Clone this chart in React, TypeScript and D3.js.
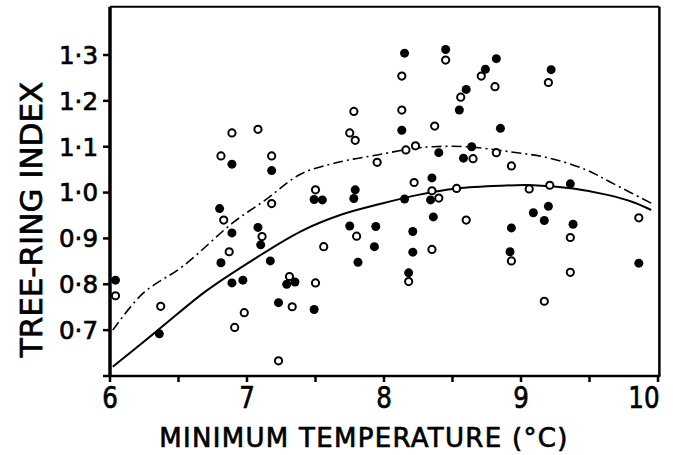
import * as d3 from 'd3';

// Tree-ring index vs minimum temperature, two samples plus two fitted curves.

type Pt = [number, number];

const filledPoints: Pt[] = [
	[6.04, 0.809], [6.36, 0.692], [6.89, 1.062], [6.8, 0.965], [6.89, 0.912], [6.81, 0.847],
	[6.89, 0.803], [6.97, 0.809], [7.18, 1.048], [7.17, 0.851], [7.08, 0.924], [7.1, 0.886],
	[7.29, 0.8], [7.35, 0.805], [7.23, 0.76], [7.49, 0.985], [7.55, 0.984], [7.49, 0.745],
	[7.79, 1.006], [7.78, 0.987], [7.75, 0.927], [7.81, 0.848], [7.94, 0.926], [7.93, 0.882],
	[8.13, 1.136], [8.15, 1.304], [8.15, 0.986], [8.21, 0.915], [8.21, 0.87], [8.18, 0.825],
	[8.35, 1.032], [8.34, 0.984], [8.36, 0.947], [8.4, 1.087], [8.45, 1.312], [8.55, 1.18],
	[8.6, 1.225], [8.58, 1.075], [8.64, 1.1], [8.74, 1.269], [8.82, 1.292], [8.85, 1.14],
	[8.93, 0.923], [8.92, 0.871], [9.09, 0.956], [9.2, 0.97], [9.17, 0.939], [9.22, 1.268],
	[9.36, 1.019], [9.38, 0.931], [9.86, 0.846],
];

const openPoints: Pt[] = [
	[6.04, 0.775], [6.37, 0.752], [6.89, 1.13], [6.81, 1.08], [6.83, 0.94], [6.87, 0.871],
	[6.98, 0.738], [6.91, 0.706], [7.08, 1.138], [7.18, 1.08], [7.18, 0.976], [7.11, 0.904],
	[7.31, 0.817], [7.33, 0.751], [7.23, 0.633], [7.5, 1.006], [7.56, 0.882], [7.5, 0.803],
	[7.78, 1.177], [7.75, 1.13], [7.79, 1.114], [7.8, 0.905], [7.95, 1.066], [8.13, 1.18],
	[8.13, 1.254], [8.16, 1.093], [8.23, 1.102], [8.22, 1.022], [8.18, 0.806], [8.35, 1.004],
	[8.4, 0.988], [8.35, 0.876], [8.37, 1.145], [8.45, 1.289], [8.56, 1.208], [8.53, 1.009],
	[8.65, 1.074], [8.6, 0.94], [8.71, 1.254], [8.81, 1.231], [8.82, 1.087], [8.93, 1.058],
	[8.93, 0.851], [9.06, 1.008], [9.21, 1.016], [9.17, 0.763], [9.2, 1.24], [9.36, 0.902],
	[9.36, 0.826], [9.86, 0.945],
];

const solidCurve: Pt[] = [
	[6.02, 0.62], [6.35, 0.7], [6.7, 0.785], [7.0, 0.845], [7.39, 0.915], [7.68, 0.951],
	[7.97, 0.975], [8.25, 0.995], [8.53, 1.009], [8.85, 1.015], [9.09, 1.016], [9.38, 1.009],
	[9.63, 0.995], [9.82, 0.979], [9.95, 0.962],
];

const dashCurve: Pt[] = [
	[6.02, 0.7], [6.24, 0.78], [6.535, 0.84], [6.9, 0.935], [7.14, 0.985], [7.39, 1.04],
	[7.68, 1.067], [7.95, 1.082], [8.21, 1.096], [8.36, 1.1], [8.6, 1.1], [8.92, 1.089],
	[9.21, 1.075], [9.48, 1.049], [9.67, 1.02], [9.95, 0.977],
];

const xTicks = [6, 6.5, 7, 7.5, 8, 8.5, 9, 9.5, 10];
const xLabels = [6, 7, 8, 9, 10];
const yTicks = [0.6, 0.7, 0.8, 0.9, 1.0, 1.1, 1.2, 1.3];
const yLabels = ['0·7', '0·8', '0·9', '1·0', '1·1', '1·2', '1·3'];

const W = 673;
const H = 455;

export default function App() {
	const x = d3.scaleLinear().domain([6, 10]).range([110, 658]);
	const y = d3.scaleLinear().domain([0.6, 1.3]).range([376, 55]);
	const xMax = x(10.01);
	const yTop = y(1.405);

	const line = d3
		.line<Pt>()
		.x((d) => x(d[0]))
		.y((d) => y(d[1]))
		.curve(d3.curveCatmullRom);

	// heavier lettering like the printed original
	const textStyle = { fontFamily: 'DejaVu Sans, sans-serif', stroke: '#000', strokeWidth: 0.7 };

	return (
		<svg width={W} height={H} style={{ position: 'absolute', left: 0, top: 0, background: '#fff' }}>
			{/* frame */}
			<line x1={x(6)} x2={xMax} y1={yTop} y2={yTop} stroke="#000" strokeWidth={2} />
			<line x1={xMax} x2={xMax} y1={yTop} y2={y(0.6)} stroke="#000" strokeWidth={2.5} />
			<line x1={x(6)} x2={x(6)} y1={yTop} y2={y(0.6) + 1} stroke="#000" strokeWidth={3.5} />
			<line x1={x(6) - 1} x2={xMax + 1} y1={y(0.6)} y2={y(0.6)} stroke="#000" strokeWidth={2.5} />

			{yTicks.map((t) => (
				<line key={`yt${t}`} x1={x(6) - 7} x2={x(6)} y1={y(t)} y2={y(t)} stroke="#000" strokeWidth={2.5} />
			))}
			{xTicks.map((t) => (
				<line key={`xt${t}`} x1={x(t)} x2={x(t)} y1={y(0.6)} y2={y(0.6) + 6} stroke="#000" strokeWidth={2.5} />
			))}

			{yLabels.map((l, i) => (
				<text key={l} x={98} y={y(yTicks[i + 1])} dy="0.36em" textAnchor="end" fontSize={24.5} style={textStyle}>
					{l}
				</text>
			))}
			{xLabels.map((t, i) => (
				<text
					key={`xl${t}`}
					x={i === xLabels.length - 1 ? x(t) + 2 : x(t)}
					y={408}
					textAnchor={i === xLabels.length - 1 ? 'end' : 'middle'}
					fontSize={30}
					style={textStyle}
					transform={`translate(${x(t)},0) scale(0.82,1) translate(${-x(t)},0)`}
				>
					{t}
				</text>
			))}

			<text x={364} y={447} textAnchor="middle" fontSize={26} letterSpacing={1.3} style={textStyle}>
				MINIMUM TEMPERATURE (°C)
			</text>
			<text transform={`translate(42,${219.5}) rotate(-90)`} textAnchor="middle" fontSize={31} style={textStyle}>
				TREE-RING INDEX
			</text>

			<path d={line(dashCurve) ?? ''} fill="none" stroke="#000" strokeWidth={1.6} strokeDasharray="10,4,2,4" />
			<path d={line(solidCurve) ?? ''} fill="none" stroke="#000" strokeWidth={2} />

			{openPoints.map((d, i) => (
				<circle key={`o${i}`} cx={x(d[0])} cy={y(d[1])} r={3.6} fill="#fff" stroke="#000" strokeWidth={2} />
			))}
			{filledPoints.map((d, i) => (
				<circle key={`f${i}`} cx={x(d[0])} cy={y(d[1])} r={4.5} fill="#000" />
			))}
		</svg>
	);
}
